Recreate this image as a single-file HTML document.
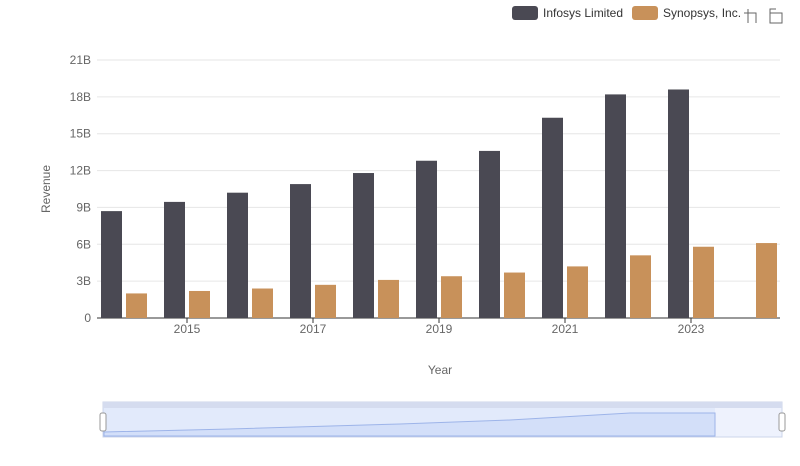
<!DOCTYPE html>
<html><head><meta charset="utf-8"><style>
body{margin:0;background:#fff;font-family:"Liberation Sans",sans-serif;}
svg text{font-family:"Liberation Sans",sans-serif;}
</style></head><body>
<svg id="c" width="800" height="461">
<g>
<rect x="512" y="6" width="26" height="14" rx="3" fill="#4a4953"/>
<text x="543" y="17" font-size="12" fill="#333">Infosys Limited</text>
<rect x="632" y="6" width="26" height="14" rx="3" fill="#c8915a"/>
<text x="663" y="17" font-size="12" fill="#333">Synopsys, Inc.</text>
</g>
<g stroke="#666" fill="none" stroke-width="1">
<path d="M748 9v14M744 13h12v10"/>
<path d="M776 9h-6v4M770 13h12v10h-12z"/>
</g>
<g id="grid"></g>
<g id="bars"></g>
<g id="axes"></g>
<text transform="translate(50,189) rotate(-90)" text-anchor="middle" font-size="12" fill="#666">Revenue</text>
<text x="440" y="374" text-anchor="middle" font-size="12" fill="#666">Year</text>
<g>
<rect x="103" y="402" width="679" height="35" fill="#eef2fd" stroke="#ccd5ea"/>
<rect x="103" y="402" width="679" height="6" fill="#d5dcef"/>
<path d="M104 432 L230 429 L400 424 L510 420 L630 413 L715 413 L715 436 L104 436Z" fill="#dce6fb" stroke="#9db3e8"/>
<rect x="103" y="408" width="612" height="29" fill="rgba(160,185,240,0.15)"/>
<rect x="100" y="413" width="6" height="18" rx="2" fill="#fff" stroke="#999"/>
<rect x="779" y="413" width="6" height="18" rx="2" fill="#fff" stroke="#999"/>
</g>
</svg>
<script>
const years=[2014,2015,2016,2017,2018,2019,2020,2021,2022,2023,2024];
const infosys=[8.7,9.45,10.2,10.9,11.8,12.8,13.6,16.3,18.2,18.6,null];
const synopsys=[2.0,2.2,2.4,2.7,3.1,3.4,3.7,4.2,5.1,5.8,6.1];
const yTicks=[0,3,6,9,12,15,18,21];
const yTickLabels=["0","3B","6B","9B","12B","15B","18B","21B"];
const NS="http://www.w3.org/2000/svg";
const x0=92.5,cw=63,yb=318,yt=60,ymax=21;
const xc=i=>x0+cw*(i+0.5);
const y=v=>yb-(yb-yt)*v/ymax;
function mk(t,a,p){const e=document.createElementNS(NS,t);for(const k in a)e.setAttribute(k,a[k]);p.appendChild(e);return e;}
const grid=document.getElementById('grid'),bars=document.getElementById('bars'),axes=document.getElementById('axes');
yTicks.forEach((v,i)=>{
 const l=mk('line',{x1:97,x2:780,y1:y(v),y2:y(v),stroke:i?'#e6e6e6':'#333'},grid);
 
 
 const t=mk('text',{x:91,y:y(v)+4,'text-anchor':'end','font-size':12,fill:'#666'},axes);
 t.textContent=yTickLabels[i];
 
 
});
years.forEach((yr,i)=>{
 if(infosys[i]!=null){const r=mk('rect',{x:xc(i)-23,y:y(infosys[i]),width:21,height:yb-y(infosys[i]),fill:'#4a4953'},bars);
 
 }
 const s=mk('rect',{x:xc(i)+2,y:y(synopsys[i]),width:21,height:yb-y(synopsys[i]),fill:'#c8915a'},bars);
 
 
 if(yr%2===1){const t=mk('text',{x:xc(i),y:333,'text-anchor':'middle','font-size':12,fill:'#666'},axes);
 t.textContent=yr;
 
 
 const k=mk('line',{x1:xc(i),x2:xc(i),y1:318,y2:323,stroke:'#333'},axes);
 
 }
});
</script>
</body></html>
